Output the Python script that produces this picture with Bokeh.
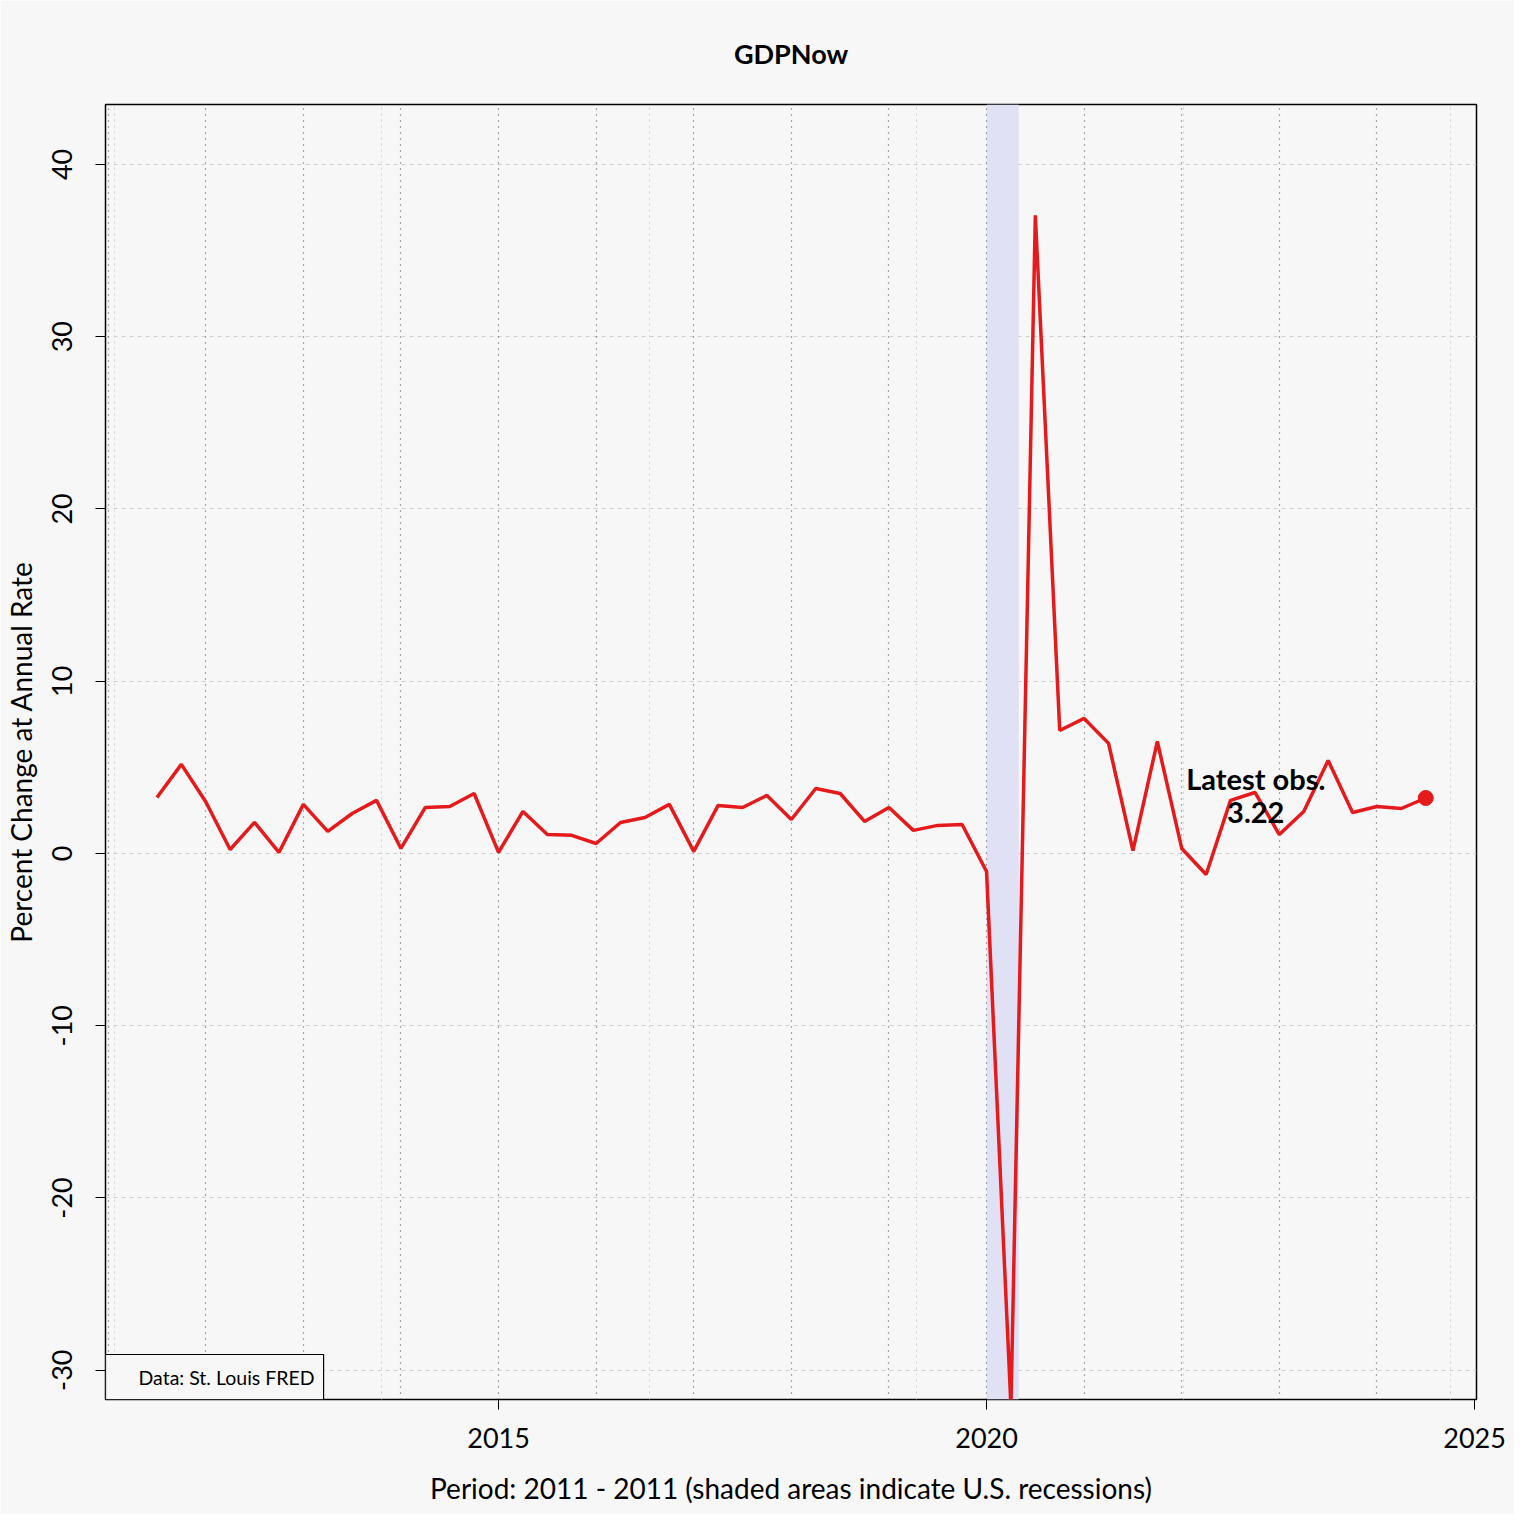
import pandas as pd
from bokeh.plotting import figure
from bokeh.models import ColumnDataSource, Range1d, FixedTicker, Grid, BoxAnnotation, Label
from bokeh.embed import file_html
from bokeh.resources import INLINE

# ---------------- data ----------------
quarters = [
    "2011Q3", "2011Q4",
    "2012Q1", "2012Q2", "2012Q3", "2012Q4",
    "2013Q1", "2013Q2", "2013Q3", "2013Q4",
    "2014Q1", "2014Q2", "2014Q3", "2014Q4",
    "2015Q1", "2015Q2", "2015Q3", "2015Q4",
    "2016Q1", "2016Q2", "2016Q3", "2016Q4",
    "2017Q1", "2017Q2", "2017Q3", "2017Q4",
    "2018Q1", "2018Q2", "2018Q3", "2018Q4",
    "2019Q1", "2019Q2", "2019Q3", "2019Q4",
    "2020Q1", "2020Q2", "2020Q3", "2020Q4",
    "2021Q1", "2021Q2", "2021Q3", "2021Q4",
    "2022Q1", "2022Q2", "2022Q3", "2022Q4",
    "2023Q1", "2023Q2", "2023Q3", "2023Q4",
    "2024Q1", "2024Q2", "2024Q3",
]
gdpnow = [
    3.25, 5.17,
    3.00, 0.23, 1.80, 0.06,
    2.85, 1.28, 2.32, 3.08,
    0.29, 2.67, 2.73, 3.48,
    0.06, 2.44, 1.10, 1.05,
    0.58, 1.80, 2.09, 2.85,
    0.12, 2.79, 2.67, 3.37,
    1.97, 3.77, 3.48, 1.86,
    2.67, 1.34, 1.63, 1.68,
    -1.05, -32.10, 37.05, 7.14,
    7.84, 6.39, 0.17, 6.50,
    0.29, -1.22, 3.08, 3.54,
    1.10, 2.44, 5.40, 2.38,
    2.73, 2.61, 3.22,
]
recession_start = ["2020-01-01"]
recession_end = ["2020-05-01"]

x_ticks = [2015, 2020, 2025]
x_tick_labels = ["2015", "2020", "2025"]
y_ticks = [-30, -20, -10, 0, 10, 20, 30, 40]
y_tick_labels = ["-30", "-20", "-10", "0", "10", "20", "30", "40"]
year_grid_years = list(range(2011, 2025))
day_grid_days = [15000, 16000, 17000, 18000, 19000, 20000]

x_limits = (2010.973, 2025.02)
y_limits = (-31.70, 43.48)

title_text = "GDPNow"
x_label = "Period: 2011 - 2011 (shaded areas indicate U.S. recessions)"
y_label = "Percent Change at Annual Rate"
source_text = "Data: St. Louis FRED"

# ---------------- helpers ----------------
def quarter_to_year(q):
    return int(q[:4]) + (int(q[-1]) - 1) * 0.25

def date_to_year(ts):
    ts = pd.Timestamp(ts)
    days = 366 if ts.is_leap_year else 365
    return ts.year + (ts.dayofyear - 1) / days

xs = [quarter_to_year(q) for q in quarters]
src = ColumnDataSource(dict(x=xs, y=gdpnow))
last_src = ColumnDataSource(dict(x=xs[-1:], y=gdpnow[-1:]))
day_grid_years = [date_to_year(pd.Timestamp("1970-01-01") + pd.Timedelta(days=d)) for d in day_grid_days]

FONT = "Lato"
BG = "#F7F7F7"
RED = "#E41A1C"

p = figure(
    frame_width=1371, frame_height=1295,
    min_border_left=105, min_border_right=38, min_border_top=104, min_border_bottom=115,
    x_range=Range1d(*x_limits), y_range=Range1d(*y_limits),
    output_backend="svg", toolbar_location=None,
    background_fill_color=BG, border_fill_color=BG,
    title=title_text,
)
p.outline_line_color = "black"
p.outline_line_width = 1.5

# title
p.title.align = "center"
p.title.text_font = FONT
p.title.text_font_size = "27px"
p.title.text_font_style = "bold"
p.title.text_color = "black"
p.title.standoff = 69

# recession shading
for s, e in zip(recession_start, recession_end):
    p.add_layout(BoxAnnotation(left=date_to_year(s), right=date_to_year(e),
                               fill_color="#E1E1F5", fill_alpha=1.0, line_color=None,
                               level="underlay"))

# grids
p.xgrid.visible = False
p.ygrid.ticker = FixedTicker(ticks=y_ticks)
p.ygrid.grid_line_color = "#CFCFCF"
p.ygrid.grid_line_dash = "4 4"
p.ygrid.grid_line_width = 1

p.add_layout(Grid(dimension=0, ticker=FixedTicker(ticks=day_grid_years),
                  grid_line_color="#D2D2D2", grid_line_dash="2 4", grid_line_width=1))
p.add_layout(Grid(dimension=0, ticker=FixedTicker(ticks=year_grid_years),
                  grid_line_color="#5A5A5A", grid_line_dash="1 5", grid_line_width=1.2))

# series
p.line("x", "y", source=src, line_color=RED, line_width=3.5)
p.scatter("x", "y", source=last_src, size=15, fill_color=RED, line_color=RED)

# axes
for ax in (p.xaxis[0], p.yaxis[0]):
    ax.axis_line_color = None
    ax.minor_tick_line_color = None
    ax.major_tick_out = 10
    ax.major_tick_in = 0
    ax.major_tick_line_color = "black"
    ax.major_label_text_font = FONT
    ax.major_label_text_font_size = "27px"
    ax.major_label_text_color = "black"
    ax.axis_label_text_font = FONT
    ax.axis_label_text_font_size = "28px"
    ax.axis_label_text_font_style = "normal"
    ax.axis_label_text_color = "black"

p.xaxis.ticker = FixedTicker(ticks=x_ticks)
p.xaxis.major_label_overrides = dict(zip(x_ticks, x_tick_labels))
p.xaxis.axis_label = x_label
p.xaxis.major_label_standoff = 18
p.xaxis.axis_label_standoff = 20

p.yaxis.ticker = FixedTicker(ticks=y_ticks)
p.yaxis.major_label_overrides = dict(zip(y_ticks, y_tick_labels))
p.yaxis.major_label_orientation = "vertical"
p.yaxis.major_label_standoff = 23
p.yaxis.axis_label = y_label
p.yaxis.axis_label_standoff = 12

# annotations
p.add_layout(Label(
    x=x_limits[0], y=y_limits[0], anchor="bottom_left",
    text=source_text, text_font=FONT, text_font_size="19.5px", text_color="black",
    border_line_color="black", border_line_width=1.2,
    background_fill_color=BG, background_fill_alpha=1.0,
    padding=dict(left=33, right=9, top=11, bottom=11),
))
p.add_layout(Label(
    x=xs[-1], y=gdpnow[-1], x_offset=-170, y_offset=3,
    text=f"Latest obs.\n{gdpnow[-1]:.2f}",
    text_align="center", text_baseline="middle",
    text_font=FONT, text_font_size="29px", text_font_style="bold",
    text_color="black", text_line_height=0.95,
))

open("out.html", "w").write(file_html(p, INLINE))
